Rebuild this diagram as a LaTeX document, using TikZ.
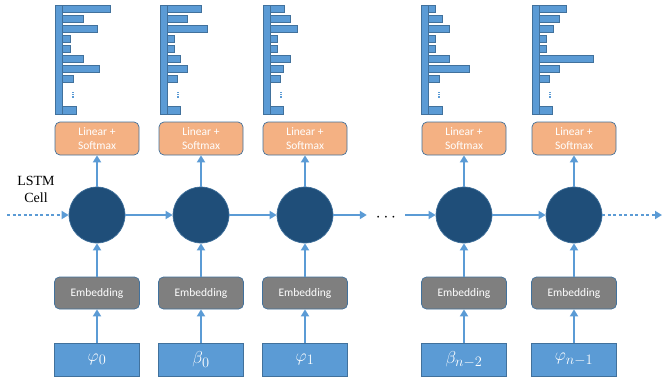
\documentclass[tikz,border=0pt]{standalone}
\usepackage{fontspec}
\newfontfamily\calib{Carlito}
\newfontfamily\tnr{Liberation Serif}
\usetikzlibrary{arrows.meta}
\definecolor{barblue}{HTML}{5B9BD5}
\definecolor{bordblue}{HTML}{41719C}
\definecolor{cellblue}{HTML}{1F4E79}
\definecolor{orangebox}{HTML}{F4B183}
\definecolor{embgray}{HTML}{7F7F7F}
\newcommand\drawhist[3]{%
  \draw[bar] (#1,5) rectangle ++(7,109);
  \foreach \L [count=\k from 0] in {#2} \draw[bar] (#1+7,5.3+10*\k) rectangle ++(\L,7.3);
  \draw[bar] (#1+7,106.7) rectangle ++(#3,7.3);
  \foreach \d in {0,2.4,4.8} \fill[barblue] (#1+17.3,91.5+\d) rectangle ++(1.3,1.4);
}
\begin{document}
\begin{tikzpicture}[x=1pt,y=-1pt,
  bar/.style={fill=barblue,draw=bordblue,line width=0.6pt},
  linbox/.style={rectangle,rounded corners=5pt,fill=orangebox,draw=bordblue,line width=0.7pt,minimum width=84pt,minimum height=33pt,inner sep=0pt,align=center,text=white,font=\calib\fontsize{11.5}{14.5}\selectfont},
  embbox/.style={linbox,fill=embgray,minimum width=85pt,minimum height=32pt},
  inbox/.style={rectangle,fill=barblue,draw=bordblue,line width=0.6pt,minimum width=85pt,minimum height=33pt,inner sep=0pt,text=white,font=\fontsize{19}{22}\selectfont},
  cell/.style={circle,fill=cellblue,draw=bordblue,line width=0.7pt,minimum size=56pt,inner sep=0pt},
  conn/.style={draw=barblue,line width=2.2pt,-{Triangle[width=8pt,length=7pt]}},
  dotconn/.style={conn,dash pattern=on 3pt off 2.5pt}]
\useasboundingbox (0,0) rectangle (662,381);

% histograms
\drawhist{55}{48,21,35,8,8,21,37,11}{14}
\drawhist{160}{34,20,40,7,7,13,20,10}{13}
\drawhist{263}{14,20,27,7,7,20,13,10}{13}
\drawhist{421}{7,14,21,7,7,21,41,11}{14}
\drawhist{532}{27,20,14,7,7,54,20,10}{13}

% columns
\foreach \n/\x/\lab in {1/97/{\varphi_0},2/201/{\beta_0},3/305/{\varphi_1},4/464/{\beta_{n-2}},5/574/{\varphi_{n-1}}}{
  \node[linbox] (lin\n) at (\x,138.5) {Linear +\\Softmax};
  \node[cell] (cell\n) at (\x,215) {};
  \node[embbox] (emb\n) at (\x,293) {Embedding};
  \node[inbox] (in\n) at (\x,359.5) {$\lab$};
  \draw[conn] (in\n.north) -- (emb\n.south);
  \draw[conn] (emb\n.north) -- (cell\n.south);
  \draw[conn] (cell\n.north) -- (lin\n.south);
}

\node[font=\tnr\fontsize{14}{17}\selectfont,align=center] (lstm) at (36,189) {LSTM\\Cell};

\coordinate (start) at (7,215);
\coordinate (end) at (662,215);
\node[inner sep=0pt,minimum width=38pt,minimum height=10pt,font=\fontsize{18}{18}\selectfont] (dots) at (386,217.5) {$\cdots$};

\draw[dotconn] (start) -- (cell1.west);
\draw[conn] (cell1.east) -- (cell2.west);
\draw[conn] (cell2.east) -- (cell3.west);
\draw[conn] (cell3.east) -- (dots.west |- cell3.east);
\draw[conn] (dots.east |- cell4.west) -- (cell4.west);
\draw[conn] (cell4.east) -- (cell5.west);
\draw[dotconn] (cell5.east) -- (end);
\end{tikzpicture}
\end{document}
